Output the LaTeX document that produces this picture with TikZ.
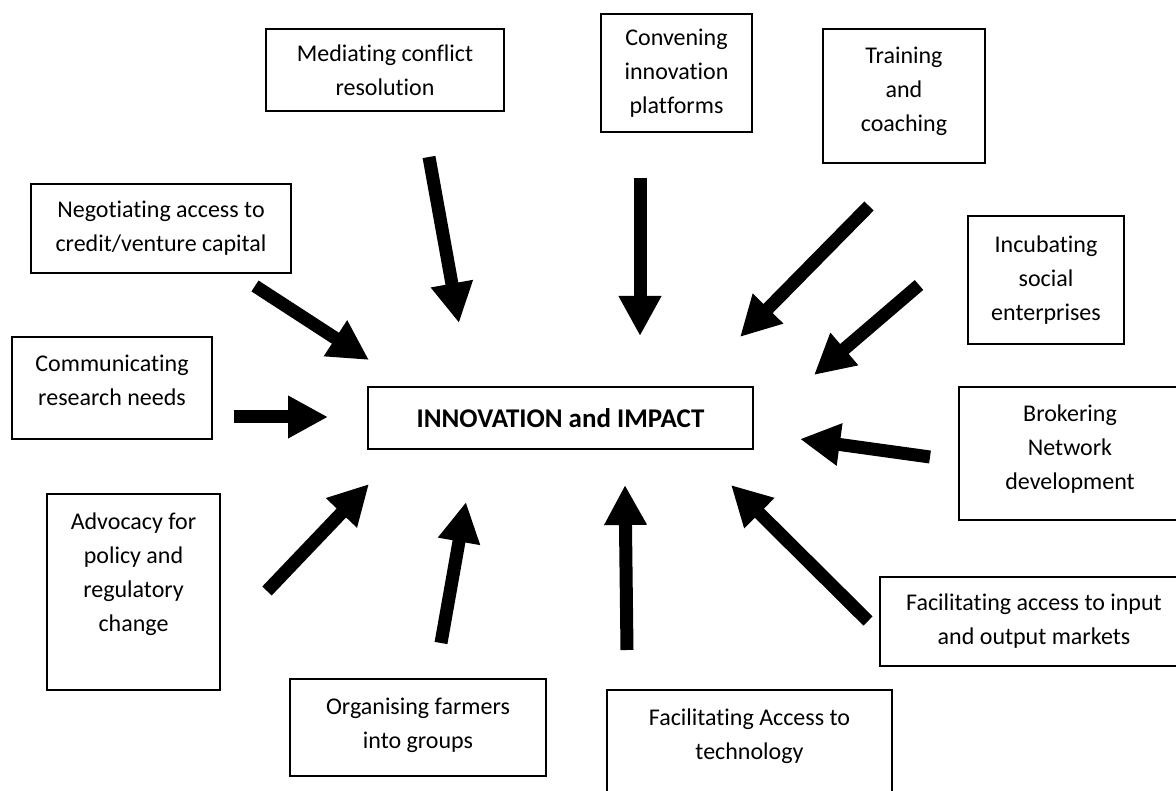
\documentclass[tikz,border=0pt]{standalone}
\usepackage{fontspec}
\setmainfont{Carlito}[Ligatures=NoCommon]
\usetikzlibrary{arrows.meta}

\begin{document}
\begin{tikzpicture}[x=1pt,y=-1pt,
  box/.style={draw,line width=1.3pt,align=center,inner sep=0pt,
    font=\fontsize{24}{34}\selectfont},
  push/.style={line width=13pt,-{Triangle[width=40pt,length=40pt]}},
]
%
  \useasboundingbox (0,0) rectangle (1176,791);
  \node (hub) at (560.5,418) [box,minimum width=385pt,minimum height=62pt,font=\fontsize{27}{34}\selectfont\bfseries] {INNOVATION and IMPACT};
  \node (med) at (385,70) [box,minimum width=238pt,minimum height=82pt] {Mediating conflict\\resolution};
  \node (conv) at (676.5,73) [box,minimum width=151pt,minimum height=118pt] {Convening\\innovation\\platforms};
  \node (train) at (904,96) [box,minimum width=162pt,minimum height=134pt,text depth=14pt] {Training\\and\\coaching};
  \node (neg) at (161,228.5) [box,minimum width=260pt,minimum height=89pt] {Negotiating access to\\credit/venture capital};
  \node (incub) at (1046,280) [box,minimum width=156pt,minimum height=128pt] {Incubating\\social\\enterprises};
  \node (comm) at (112,388) [box,minimum width=200pt,minimum height=102pt,text depth=16pt] {Communicating\\research needs};
  \node (brok) at (1070,453.5) [box,minimum width=222pt,minimum height=133pt,text depth=13pt] {Brokering\\Network\\development};
  \node (adv) at (133.5,592) [box,minimum width=173pt,minimum height=196pt,text depth=40pt] {Advocacy for\\policy and\\regulatory\\change};
  \node (inout) at (1034,621.5) [box,minimum width=308pt,minimum height=89pt] {Facilitating access to input\\and output markets};
  \node (org) at (418,727.5) [box,minimum width=256pt,minimum height=97pt,text depth=8pt] {Organising farmers\\into groups};
  \node (tech) at (749.5,755) [box,minimum width=285pt,minimum height=130pt,text depth=42pt] {Facilitating Access to\\technology};
%
  \coordinate (med-a) at (429,157);  \coordinate (med-b) at (459,323);
  \coordinate (conv-a) at (640,178); \coordinate (conv-b) at (640,336);
  \coordinate (train-a) at (869,206); \coordinate (train-b) at (740,337);
  \coordinate (incub-a) at (919,285); \coordinate (incub-b) at (814,375);
  \coordinate (neg-a) at (255,286);  \coordinate (neg-b) at (369,360);
  \coordinate (comm-a) at (234,417); \coordinate (comm-b) at (328,417);
  \coordinate (brok-a) at (930,457); \coordinate (brok-b) at (800,439);
  \coordinate (adv-a) at (267,591);  \coordinate (adv-b) at (369,484);
  \coordinate (inout-a) at (868,621); \coordinate (inout-b) at (731,485);
  \coordinate (org-a) at (441,643);  \coordinate (org-b) at (466,502);
  \coordinate (tech-a) at (627,650); \coordinate (tech-b) at (625,485);
%
  \foreach \n in {med,conv,train,incub,neg,comm,brok,adv,inout,org,tech}
    \draw [push] (\n-a) -- (\n-b);
%
\end{tikzpicture}
\end{document}
